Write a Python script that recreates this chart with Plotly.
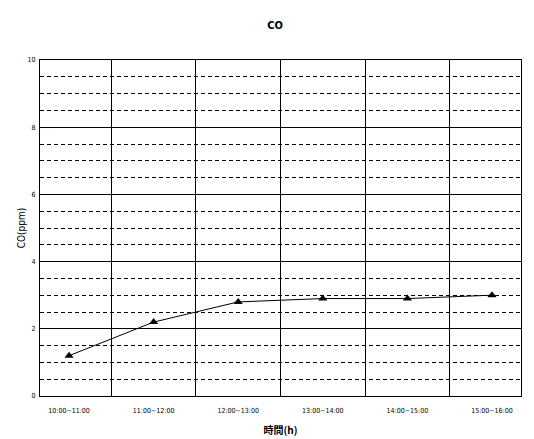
import plotly.graph_objects as go

# CO concentration by hour
hours = ["10:00~11:00", "11:00~12:00", "12:00~13:00", "13:00~14:00", "14:00~15:00", "15:00~16:00"]
co_ppm = [1.2, 2.2, 2.8, 2.9, 2.9, 3.0]
y_ticks = [0, 2, 4, 6, 8, 10]

FONT = "Liberation Sans Narrow, DejaVu Sans Condensed, Arial Narrow, Noto Sans CJK JP, sans-serif"

fig = go.Figure(go.Scatter(
    x=hours, y=co_ppm, mode="lines+markers",
    line=dict(color="black", width=1),
    marker=dict(symbol="triangle-up", size=8, color="black"),
    showlegend=False,
))

# the page body adds an 8px offset, so margins are shifted to compensate
fig.update_layout(
    width=534, height=439,
    plot_bgcolor="white", paper_bgcolor="white",
    margin=dict(l=32, r=21, t=52, b=51),
    title=dict(text="<b>CO</b>", x=0.5, xanchor="center", y=0.962, yanchor="middle",
               font=dict(family=FONT, size=11, color="black")),
    font=dict(family=FONT, size=7, color="black"),
)

fig.update_xaxes(
    type="category", tickson="boundaries", ticks="", showgrid=True, automargin=False,
    gridcolor="black", gridwidth=1, showline=True, linecolor="black", mirror=True,
    tickfont=dict(size=7, color="black"), ticklabelstandoff=8,
    title=dict(text="<b>時間(h)</b>", font=dict(family="Noto Sans CJK JP", size=10, color="black"), standoff=12),
)

fig.update_yaxes(
    range=[0, 10], tickvals=y_ticks, showgrid=True, gridcolor="black", gridwidth=1,
    showline=True, linecolor="black", mirror=True, zeroline=False, automargin=False,
    tickfont=dict(size=7, color="black"), ticks="", ticklabelstandoff=2,
    minor=dict(dtick=0.5, showgrid=True, gridcolor="black", griddash="4px,3px", gridwidth=1),
    title=dict(text="CO(ppm)", font=dict(size=10, color="black"), standoff=0),
)

fig.write_html("out.html")
